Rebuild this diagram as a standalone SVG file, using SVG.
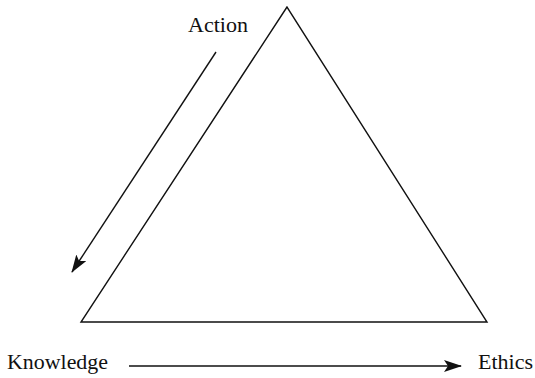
<svg xmlns="http://www.w3.org/2000/svg" width="535" height="378" viewBox="0 0 535 378">
<defs>
<style>
.lbl{font-family:"Liberation Serif","Times New Roman",serif;font-size:20px;fill:#111}
.edge{stroke:#111;stroke-width:1.4;fill:none}
</style>
<marker id="ah" viewBox="0 0 18 12" refX="17" refY="6" markerWidth="18" markerHeight="12" markerUnits="userSpaceOnUse" orient="auto">
<path d="M0,0 L18,6 L0,12 L4,6 Z" fill="#111"/>
</marker>
</defs>
<rect width="535" height="378" fill="#fff"/>
<g id="triangle">
<polygon points="287,7 81,322 487,322" fill="none" stroke="#111" stroke-width="1.4" stroke-linejoin="miter"/>
</g>
<g id="action"><text class="lbl" x="188" y="32" textLength="60" lengthAdjust="spacingAndGlyphs">Action</text></g>
<g id="knowledge"><text class="lbl" x="7" y="369" textLength="101" lengthAdjust="spacingAndGlyphs">Knowledge</text></g>
<g id="ethics"><text class="lbl" x="478" y="369" textLength="55" lengthAdjust="spacingAndGlyphs">Ethics</text></g>
<g id="connectors">
<line class="edge" x1="129" y1="366" x2="461" y2="366" marker-end="url(#ah)"/>
<line class="edge" x1="216" y1="52" x2="72" y2="272" marker-end="url(#ah)"/>
</g>
</svg>
